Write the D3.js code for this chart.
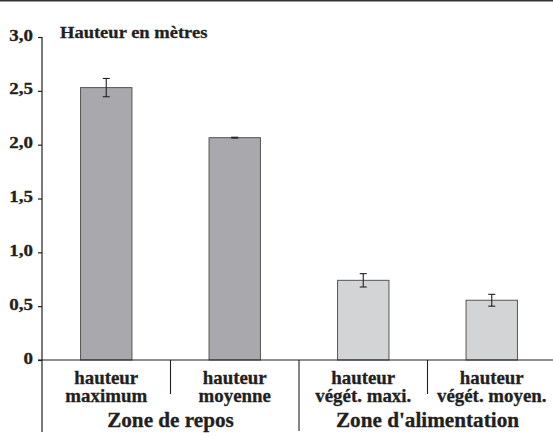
<!DOCTYPE html>
<html><head><meta charset="utf-8">
<script src="https://cdn.jsdelivr.net/npm/d3@7"></script>
<style>body{margin:0;background:#fff}svg{display:block}</style>
</head><body>
<script>
const categories = ["hauteur|maximum","hauteur|moyenne","hauteur|végét. maxi.","hauteur|végét. moyen."];
const values = [2.53, 2.065, 0.74, 0.555];
const errors = [0.085, 0.004, 0.062, 0.055];
const groups = ["Zone de repos","Zone d'alimentation"];
const yTicks = [0, 0.5, 1.0, 1.5, 2.0, 2.5, 3.0];
const tickLabels = ["0","0,5","1,0","1,5","2,0","2,5","3,0"];
const title = "Hauteur en mètres";
const fills = ["#a9a9ad","#a9a9ad","#d3d4d6","#d3d4d6"];

const W=553,H=437;
const svg=d3.select("body").append("svg").attr("width",W).attr("height",H);
svg.append("line").attr("x1",0).attr("x2",W).attr("y1",0.8).attr("y2",0.8).attr("stroke","#333").attr("stroke-width",1.6);

const x=d3.scaleBand().domain(categories).range([42,556]).paddingInner(0.6).paddingOuter(0.3);
const y=d3.scaleLinear().domain([0,3]).range([360,37]);
const ink="#231f20";
const FONT="Liberation Serif";

function label(tx,ty,str,size,sx,anchor){
  svg.append("g").attr("transform",`translate(${tx},${ty}) scale(${sx},1)`)
    .append("text").attr("text-anchor",anchor||"middle")
    .attr("font-family",FONT).attr("font-weight","bold").attr("font-size",size).attr("fill",ink)
    .attr("stroke",ink).attr("stroke-width",0.3)
    .text(str);
}

// bars
svg.selectAll("rect.bar").data(values).join("rect").attr("class","bar")
  .attr("x",(d,i)=>x(categories[i])).attr("width",x.bandwidth())
  .attr("y",d=>y(d)).attr("height",d=>y(0)-y(d))
  .attr("fill",(d,i)=>fills[i]).attr("stroke","#555").attr("stroke-width",1);

// error bars
values.forEach((v,i)=>{
  const cx=x(categories[i])+x.bandwidth()/2;
  const g=svg.append("g").attr("stroke",ink).attr("stroke-width",1.1);
  g.append("line").attr("x1",cx).attr("x2",cx).attr("y1",y(v+errors[i])).attr("y2",y(v-errors[i]));
  g.append("line").attr("x1",cx-3.5).attr("x2",cx+3.5).attr("y1",y(v+errors[i])).attr("y2",y(v+errors[i]));
  g.append("line").attr("x1",cx-3.5).attr("x2",cx+3.5).attr("y1",y(v-errors[i])).attr("y2",y(v-errors[i]));
});

// y axis
const yAxis=d3.axisLeft(y).tickValues(yTicks).tickSize(4).tickFormat("");
const ga=svg.append("g").attr("transform","translate(42,0)").call(yAxis);
ga.select(".domain").remove();
ga.selectAll(".tick line").attr("stroke",ink).attr("stroke-width",1.2);
yTicks.forEach((t,i)=>label(33,y(t)+3.5,tickLabels[i],16.5,1.15,"end"));
svg.append("line").attr("x1",42).attr("x2",42).attr("y1",37).attr("y2",432).attr("stroke",ink).attr("stroke-width",1.2);

// x axis
svg.append("line").attr("x1",38).attr("x2",W).attr("y1",360).attr("y2",360).attr("stroke",ink).attr("stroke-width",1.2);
const step=x.step();
const x0=x.range()[0];
[1,2,3].forEach(k=>{
  const sx=x0+k*step;
  svg.append("line").attr("x1",sx).attr("x2",sx).attr("y1",360).attr("y2",k===2?431:394).attr("stroke",ink).attr("stroke-width",1.1);
});

// category labels
categories.forEach((c,i)=>{
  const cx=x(c)+x.bandwidth()/2;
  c.split("|").forEach((p,j)=>label(cx,383.5+j*18,p,18,1.05));
});
groups.forEach((g,k)=>label(x0+step*(2*k+1),427,g,20,1.06));

label(60,38,title,17,1.09,"start");
</script>
</body></html>
